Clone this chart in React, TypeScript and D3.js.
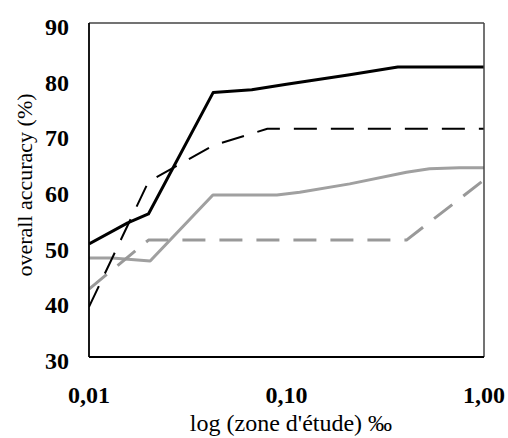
import React from "react";
import * as d3 from "d3";

const blackSolidX = [0.01, 0.0157, 0.02, 0.0425, 0.0667, 0.1, 0.209, 0.366, 1.0];
const blackSolidY = [50.3, 54.1, 55.7, 77.5, 78.0, 79.0, 80.7, 82.1, 82.1];

const blackDashedX = [0.01, 0.02, 0.0425, 0.08, 1.0];
const blackDashedY = [39, 61.5, 68, 71, 71];

const graySolidX = [0.01, 0.0131, 0.0204, 0.0424, 0.0894, 0.1167, 0.209, 0.405, 0.53, 0.75, 1.0];
const graySolidY = [47.8, 47.8, 47.25, 59.1, 59.1, 59.6, 61.1, 63.2, 63.8, 64.0, 64.0];

const grayDashedX = [0.01, 0.02, 0.405, 1.0];
const grayDashedY = [42.2, 51, 51, 61.8];

const xTicks = [0.01, 0.1, 1];
const xTickLabels = ["0,01", "0,10", "1,00"];
const yTicks = [30, 40, 50, 60, 70, 80, 90];

const W = 508, H = 438;
const L = 89, R = 484, T = 23, B = 357;

export default function App() {
  const x = d3.scaleLog().domain([0.01, 1]).range([L, R]);
  const y = d3.scaleLinear().domain([30, 90]).range([B, T]);
  const line = d3
    .line<[number, number]>()
    .x((d) => x(d[0]))
    .y((d) => y(d[1]));
  const zip = (a: number[], b: number[]) => a.map((v, i) => [v, b[i]] as [number, number]);
  const series = [
    { xs: graySolidX, ys: graySolidY, color: "#a0a0a0", w: 3, dash: "" },
    { xs: grayDashedX, ys: grayDashedY, color: "#999999", w: 3, dash: "23 14" },
    { xs: blackDashedX, ys: blackDashedY, color: "#000", w: 2, dash: "23 14" },
    { xs: blackSolidX, ys: blackSolidY, color: "#000", w: 3, dash: "" },
  ];
  const font = "'Liberation Serif', 'Times New Roman', serif";
  return (
    <svg width={W} height={H} style={{ position: "absolute", left: 0, top: 0, background: "#fff" }}>
      <rect x={0} y={0} width={W} height={H} fill="#fff" />
      <defs>
        <clipPath id="plot">
          <rect x={L} y={T} width={R - L} height={B - T} />
        </clipPath>
      </defs>
      <g clipPath="url(#plot)">
        {series.map((s, i) => (
          <path
            key={i}
            d={line(zip(s.xs, s.ys)) || ""}
            fill="none"
            stroke={s.color}
            strokeWidth={s.w}
            strokeLinejoin="round"
            strokeDasharray={s.dash || undefined}
          />
        ))}
      </g>
      <line x1={L} y1={T} x2={R} y2={T} stroke="#444" strokeWidth={1.5} />
      <line x1={R} y1={T} x2={R} y2={B} stroke="#444" strokeWidth={1.5} />
      <line x1={L} y1={T} x2={L} y2={B} stroke="#000" strokeWidth={1.8} />
      <line x1={L} y1={B} x2={R} y2={B} stroke="#000" strokeWidth={1.8} />
      {yTicks.map((t) => (
        <text
          key={t}
          x={69}
          y={y(t) + 12}
          textAnchor="end"
          fontFamily={font}
          fontWeight="bold"
          fontSize={24}
          fill="#000"
        >
          {t}
        </text>
      ))}
      {xTicks.map((t, i) => (
        <text
          key={t}
          x={x(t)}
          y={403}
          textAnchor="middle"
          fontFamily={font}
          fontWeight="bold"
          fontSize={24}
          fill="#000"
        >
          {xTickLabels[i]}
        </text>
      ))}
      <text
        x={291}
        y={431}
        textAnchor="middle"
        fontFamily={font}
        fontSize={24}
        fill="#000"
      >
        log (zone d'étude) ‰
      </text>
      <text
        transform={`translate(32, 185) rotate(-90)`}
        textAnchor="middle"
        fontFamily={font}
        fontSize={22}
        fill="#000"
      >
        overall accuracy (%)
      </text>
    </svg>
  );
}
